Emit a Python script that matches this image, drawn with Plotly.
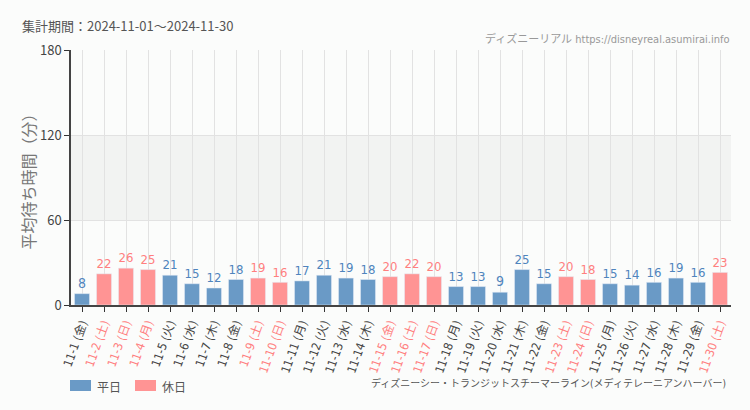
import plotly.graph_objects as go

dates = ["11-1", "11-2", "11-3", "11-4", "11-5", "11-6", "11-7", "11-8", "11-9", "11-10",
         "11-11", "11-12", "11-13", "11-14", "11-15", "11-16", "11-17", "11-18", "11-19", "11-20",
         "11-21", "11-22", "11-23", "11-24", "11-25", "11-26", "11-27", "11-28", "11-29", "11-30"]
weekdays = ["金", "土", "日", "月", "火", "水", "木", "金", "土", "日",
            "月", "火", "水", "木", "金", "土", "日", "月", "火", "水",
            "木", "金", "土", "日", "月", "火", "水", "木", "金", "土"]
values = [8, 22, 26, 25, 21, 15, 12, 18, 19, 16,
          17, 21, 19, 18, 20, 22, 20, 13, 13, 9,
          25, 15, 20, 18, 15, 14, 16, 19, 16, 23]
holiday = [0, 1, 1, 1, 0, 0, 0, 0, 1, 1,
           0, 0, 0, 0, 1, 1, 1, 0, 0, 0,
           0, 0, 1, 1, 0, 0, 0, 0, 0, 1]
y_ticks = [0, 60, 120, 180]
legend_names = ["平日", "休日"]

BLUE = "#6a9ac6"
PINK = "#ff9494"
BLUE_T = "#4f84bd"
PINK_T = "#ff7f7f"
BG = "#fbfcfb"
NUMFONT = "DejaVu Sans Condensed, Liberation Sans Narrow, Roboto, Noto Sans CJK JP"
JP = "Noto Sans CJK JP, Noto Sans, sans-serif"

# page body has an 8px default margin; figure coordinates are offset accordingly
OFF = 8
L, R, T, B = 71, 731, 50, 305  # plot area in window pixels
PW = float(R - L)
PH = float(B - T)

def px_x(px):
    return (px - L) / PW

def px_y(py):
    return (B - py) / PH

cats = list(range(len(dates)))
wk_vals = [v if h == 0 else None for v, h in zip(values, holiday)]
hd_vals = [v if h == 1 else None for v, h in zip(values, holiday)]

fig = go.Figure()
fig.add_trace(go.Bar(
    x=cats, y=wk_vals, name=legend_names[0], marker_color=BLUE, width=0.68,
    text=[str(v) if v is not None else "" for v in wk_vals], textposition="outside",
    textfont=dict(color=BLUE_T, size=14, family=NUMFONT), cliponaxis=False,
))
fig.add_trace(go.Bar(
    x=cats, y=hd_vals, name=legend_names[1], marker_color=PINK, width=0.68,
    text=[str(v) if v is not None else "" for v in hd_vals], textposition="outside",
    textfont=dict(color=PINK_T, size=14, family=NUMFONT), cliponaxis=False,
))

ticktext = []
for d, w, h in zip(dates, weekdays, holiday):
    c = PINK_T if h else "#444444"
    ticktext.append(f"<span style='color:{c}'>{d} ({w})</span>")

fig.add_shape(type="rect", xref="paper", yref="y", x0=0, x1=1, y0=60, y1=120,
              fillcolor="#f2f3f2", line_width=0, layer="below")

for (x0, col, name) in [(70, BLUE, legend_names[0]), (135, PINK, legend_names[1])]:
    fig.add_shape(type="rect", xref="paper", yref="paper",
                  x0=px_x(x0), x1=px_x(x0 + 21), y0=px_y(391), y1=px_y(380),
                  fillcolor=col, line_width=0)
    fig.add_annotation(xref="paper", yref="paper", x=px_x(x0 + 25), y=px_y(386),
                       xanchor="left", yanchor="middle", text=name, showarrow=False,
                       font=dict(family=JP, size=12, color="#555555"))

fig.update_layout(
    width=750 - OFF, height=410 - OFF,
    margin=dict(l=L - OFF, r=750 - R, t=T - OFF, b=410 - B),
    paper_bgcolor=BG, plot_bgcolor=BG,
    barmode="overlay",
    showlegend=False,
    font=dict(family=JP),
)
fig.update_xaxes(
    tickmode="array", tickvals=cats, ticktext=ticktext, tickangle=-70,
    range=[-0.5, len(dates) - 0.5], automargin=False,
    showgrid=True, gridcolor="#e2e2e2", gridwidth=1,
    showline=True, linecolor="#444444", linewidth=1.5,
    ticks="outside", ticklen=5, tickcolor="#333333",
    tickfont=dict(family=NUMFONT, size=12, color="#444444"),
)
fig.update_yaxes(
    range=[0, 180], tickmode="array", tickvals=y_ticks, automargin=False,
    showgrid=True, gridcolor="#e2e2e2", zeroline=False,
    showline=True, linecolor="#444444", linewidth=1.5,
    ticks="outside", ticklen=5, tickcolor="#333333",
    tickfont=dict(family=JP, size=13, color="#444444"),
    title=dict(text="平均待ち時間（分）", font=dict(family=JP, size=16, color="#777777"), standoff=0),
)

fig.add_annotation(xref="paper", yref="paper", x=px_x(20), y=px_y(26), xanchor="left", yanchor="middle",
                   text="集計期間：2024-11-01～2024-11-30", showarrow=False,
                   font=dict(family=JP, size=13, color="#555555"))
fig.add_annotation(xref="paper", yref="paper", x=px_x(731), y=px_y(39), xanchor="right", yanchor="middle",
                   text="ディズニーリアル https://disneyreal.asumirai.info", showarrow=False,
                   font=dict(family=NUMFONT, size=11, color="#999999"))
fig.add_annotation(xref="paper", yref="paper", x=px_x(728), y=px_y(383), xanchor="right", yanchor="middle",
                   text="ディズニーシー・トランジットスチーマーライン(メディテレーニアンハーバー)", showarrow=False,
                   font=dict(family=NUMFONT, size=10, color="#555555"))

fig.write_html("out.html", post_script=f"document.body.style.background='{BG}';")
